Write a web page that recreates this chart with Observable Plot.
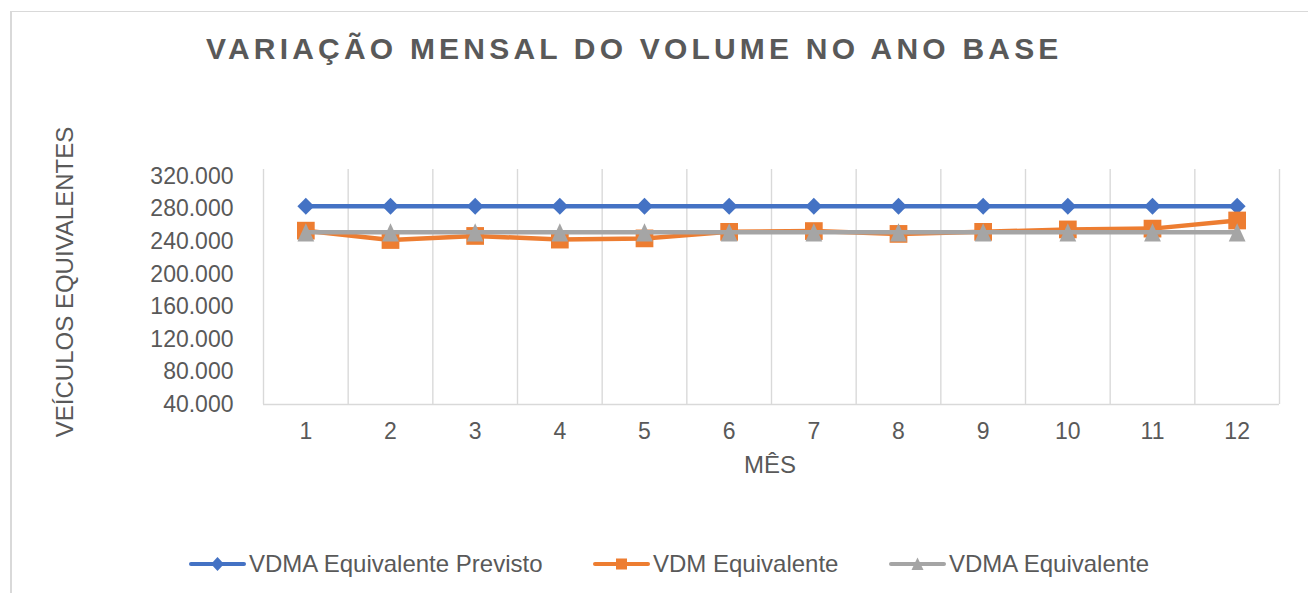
<!DOCTYPE html>
<html><head><meta charset="utf-8">
<script src="https://cdn.jsdelivr.net/npm/d3@7"></script>
<script src="https://cdn.jsdelivr.net/npm/@observablehq/plot@0.6"></script>
<style>
body{margin:0;background:#fff;font-family:"Liberation Sans",Arial,sans-serif;color:#595959}
#wrap{position:relative;width:1308px;height:593px;overflow:hidden;background:#fff}
#frame{position:absolute;left:10px;top:11px;width:1400px;height:700px;border-top:1.5px solid #d9d9d9;border-left:2px solid #d9d9d9;box-sizing:border-box}
#chart{position:absolute;left:0;top:0}
.t{position:absolute;white-space:nowrap;line-height:24px;height:24px;font-size:24px;color:#595959}
#title{position:absolute;left:206px;top:34px;font-size:30px;line-height:30px;font-weight:bold;letter-spacing:4.2px;color:#595959;white-space:nowrap}
#ytitle{left:-135px;top:270px;width:400px;text-align:center;transform:rotate(-90deg)}
#xtitle{left:670px;top:453px;width:200px;text-align:center}
.leg{position:absolute;top:552px;height:24px;display:flex;align-items:center;font-size:24px;color:#595959;white-space:nowrap}
.leg svg{margin-right:3px}
</style>
</head><body>
<div id="wrap">
  <div id="frame"></div>
  <div id="chart"></div>
  <div id="title">VARIAÇÃO MENSAL DO VOLUME NO ANO BASE</div>
  <div id="ytitle" class="t">VEÍCULOS EQUIVALENTES</div>
  <div id="xtitle" class="t">MÊS</div>
  <div id="legend"></div>
</div>
<script>
const months = [1, 2, 3, 4, 5, 6, 7, 8, 9, 10, 11, 12];
const seriesNames = ["VDMA Equivalente Previsto", "VDM Equivalente", "VDMA Equivalente"];
const seriesColors = ["#4472C4", "#ED7D31", "#A5A5A5"];
const vdmaPrevisto = [283500, 283500, 283500, 283500, 283500, 283500, 283500, 283500, 283500, 283500, 283500, 283500];
const vdm = [253500, 242000, 247000, 242500, 244000, 252000, 253000, 249500, 252000, 255000, 256000, 266000];
const vdma = [251500, 251500, 251500, 251500, 251500, 251500, 251500, 251500, 251500, 251500, 251500, 251500];
const yTicks = [40000, 80000, 120000, 160000, 200000, 240000, 280000, 320000];

const fmt = d => d3.format(",")(d).replace(/,/g, ".");

// isoceles triangle symbol (Excel-like)
const tri = {draw(ctx, size) {
  const a = Math.sqrt(size / Math.PI);
  const hw = 1.2 * a, hh = 1.3 * a;
  ctx.moveTo(0, -hh); ctx.lineTo(hw, hh); ctx.lineTo(-hw, hh); ctx.closePath();
}};

const series = [vdmaPrevisto, vdm, vdma];
const rows = series.map((vals, s) => months.map((m, i) => ({month: m, value: vals[i], s})));
const gridX = months.map(m => m - 0.5).concat([months[months.length - 1] + 0.5]);

const plot = Plot.plot({
  width: 1308, height: 593,
  marginLeft: 263, marginRight: 29, marginTop: 169, marginBottom: 189,
  x: {domain: [0.5, 12.5]},
  y: {domain: [40000, 328600]},
  style: {fontFamily: '"Liberation Sans", Arial, sans-serif', fontSize: "23px", color: "#595959", background: "transparent", overflow: "visible"},
  marks: [
    Plot.ruleX(gridX, {stroke: "#d9d9d9", strokeWidth: 1.4}),
    Plot.ruleY([yTicks[0]], {stroke: "#d9d9d9", strokeWidth: 1.4}),
    Plot.axisX(months, {tickSize: 0, tickPadding: 18, fontSize: 23, fill: "#595959", label: null, tickFormat: d => String(d)}),
    Plot.axisY(yTicks, {tickSize: 0, tickPadding: 30, fontSize: 23, fill: "#595959", label: null, tickFormat: fmt}),
    Plot.line(rows[0], {x: "month", y: "value", stroke: seriesColors[0], strokeWidth: 4.5}),
    Plot.dot(rows[0], {x: "month", y: "value", symbol: "diamond2", r: 7.6, fill: seriesColors[0], stroke: "none"}),
    Plot.line(rows[1], {x: "month", y: "value", stroke: seriesColors[1], strokeWidth: 4.5}),
    Plot.dot(rows[1], {x: "month", y: "value", symbol: "square", r: 10, fill: seriesColors[1], stroke: "none"}),
    Plot.line(rows[2], {x: "month", y: "value", stroke: seriesColors[2], strokeWidth: 4.5}),
    Plot.dot(rows[2], {x: "month", y: "value", symbol: tri, r: 7, fill: seriesColors[2], stroke: "none"})
  ]
});
document.getElementById("chart").appendChild(plot);

// legend
const legLeft = [189, 593, 889];
const markers = [
  c => `<path d="M28.5,5 L35,12 L28.5,19 L22,12 Z" fill="${c}"/>`,
  c => `<rect x="23" y="6.5" width="11" height="11" fill="${c}"/>`,
  c => `<path d="M28.5,5.5 L34.5,18 L22.5,18 Z" fill="${c}"/>`
];
const leg = document.getElementById("legend");
seriesNames.forEach((name, i) => {
  const d = document.createElement("div");
  d.className = "leg";
  d.style.left = legLeft[i] + "px";
  d.innerHTML = `<svg width="57" height="24"><line x1="2" x2="55" y1="12" y2="12" stroke="${seriesColors[i]}" stroke-width="4" stroke-linecap="round"/>${markers[i](seriesColors[i])}</svg><span>${name}</span>`;
  leg.appendChild(d);
});
</script>
</body></html>
